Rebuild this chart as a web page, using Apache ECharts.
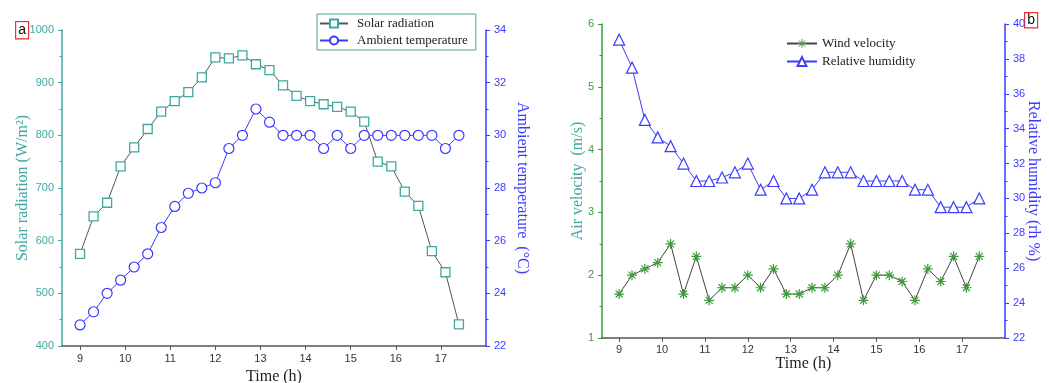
<!DOCTYPE html>
<html>
<head>
<meta charset="utf-8">
<script src="https://cdn.jsdelivr.net/npm/echarts@6/dist/echarts.min.js"></script>
<style>
  html, body { margin: 0; padding: 0; background: #ffffff; }
  #chart { width: 1049px; height: 383px; }
</style>
</head>
<body>
<div id="chart"></div>
<script>
// time of each measurement (h)
const hours = [9, 9.3, 9.6, 9.9, 10.2, 10.5, 10.8, 11.1, 11.4, 11.7, 12, 12.3, 12.6, 12.9, 13.2,
  13.5, 13.8, 14.1, 14.4, 14.7, 15, 15.3, 15.6, 15.9, 16.2, 16.5, 16.8, 17.1, 17.4];
const timeTicks = [9, 10, 11, 12, 13, 14, 15, 16, 17];

// (a) solar radiation W/m2 and ambient temperature °C
const solarRadiation = [575, 646, 672, 741, 777, 812, 845, 865, 882, 910, 948, 946, 952, 935, 924,
  895, 875, 865, 859, 854, 845, 826, 750, 741, 693, 666, 580, 540, 441];
const ambientTemp = [22.8, 23.3, 24.0, 24.5, 25.0, 25.5, 26.5, 27.3, 27.8, 28.0, 28.2, 29.5, 30.0, 31.0, 30.5,
  30.0, 30.0, 30.0, 29.5, 30.0, 29.5, 30.0, 30.0, 30.0, 30.0, 30.0, 30.0, 29.5, 30.0];

// (b) wind velocity m/s and relative humidity %
const windVelocity = [1.7, 2.0, 2.1, 2.2, 2.5, 1.7, 2.3, 1.6, 1.8, 1.8, 2.0, 1.8, 2.1, 1.7, 1.7,
  1.8, 1.8, 2.0, 2.5, 1.6, 2.0, 2.0, 1.9, 1.6, 2.1, 1.9, 2.3, 1.8, 2.3];
const relHumidity = [39.1, 37.5, 34.5, 33.5, 33.0, 32.0, 31.0, 31.0, 31.2, 31.5, 32.0, 30.5, 31.0, 30.0, 30.0,
  30.5, 31.5, 31.5, 31.5, 31.0, 31.0, 31.0, 31.0, 30.5, 30.5, 29.5, 29.5, 29.5, 30.0];

const teal = '#40a8a0';
const blue = '#3b3bff';
const green = '#3a9e3a';
const dark = '#555555';
const sans = 'Liberation Sans, Arial, sans-serif';
const serif = 'Liberation Serif, Times New Roman, serif';

const pairs = (ys) => hours.map((h, i) => [h, ys[i]]);

// 8-ray star used by Origin for the wind series
const asterisk = 'path://M5,0L5,10M0,5L10,5M1.5,1.5L8.5,8.5M1.5,8.5L8.5,1.5';

function timeAxis(gridIndex, labelMargin, nameGap) {
  return {
    type: 'value',
    gridIndex: gridIndex,
    min: 8.6,
    max: 18,
    name: 'Time (h)',
    nameLocation: 'middle',
    nameGap: nameGap,
    nameMoveOverlap: false,
    nameTextStyle: {fontFamily: serif, fontSize: 16, color: '#222'},
    axisLine: {show: true, lineStyle: {color: dark, width: 1.5}},
    axisTick: {show: true, inside: false, length: 4, customValues: timeTicks, lineStyle: {color: dark}},
    axisLabel: {customValues: timeTicks, margin: labelMargin, fontFamily: sans, fontSize: 11, color: '#333'},
    splitLine: {show: false}
  };
}

function valAxis(opt) {
  return {
    type: 'value',
    gridIndex: opt.grid,
    position: opt.position,
    min: opt.min,
    max: opt.max,
    interval: opt.interval,
    name: opt.name,
    nameLocation: 'middle',
    nameGap: opt.nameGap,
    nameMoveOverlap: false,
    nameRotate: opt.position === 'right' ? -90 : 90,
    nameTextStyle: {fontFamily: serif, fontSize: 16, color: opt.nameColor || opt.color},
    axisLine: {show: true, lineStyle: {color: opt.color, width: 1.5}},
    axisTick: {show: true, inside: false, length: 4, lineStyle: {color: opt.color}},
    minorTick: {show: true, splitNumber: 2, length: 2.5, lineStyle: {color: opt.color}},
    axisLabel: {margin: 8, fontFamily: sans, fontSize: 11, color: opt.color, formatter: (v) => String(v)},
    splitLine: {show: false}
  };
}

const chart = echarts.init(document.getElementById('chart'));
const option = {
  animation: false,
  backgroundColor: '#ffffff',
  grid: [
    {left: 62, right: 563, top: 30, bottom: 37, outerBoundsMode: 'none'},
    {left: 602, right: 44, top: 24, bottom: 45, outerBoundsMode: 'none'}
  ],
  xAxis: [
    timeAxis(0, 7, 23),
    timeAxis(1, 6, 18)
  ],
  yAxis: [
    valAxis({grid: 0, position: 'left', min: 400, max: 1000, interval: 100, color: teal,
      name: 'Solar radiation (W/m\u00b2)', nameGap: 31}),
    valAxis({grid: 0, position: 'right', min: 22, max: 34, interval: 2, color: blue,
      name: 'Ambient temperature  (\u00b0C)', nameGap: 28}),
    valAxis({grid: 1, position: 'left', min: 1, max: 6, interval: 1, color: green, nameColor: teal,
      name: 'Air velocity  (m/s)', nameGap: 16}),
    valAxis({grid: 1, position: 'right', min: 22, max: 40, interval: 2, color: blue,
      name: 'Relative humidity (rh %)', nameGap: 20})
  ],
  legend: [
    {
      left: 317, top: 14, orient: 'vertical',
      data: ['Solar radiation', 'Ambient temperature'],
      borderColor: teal, borderWidth: 1, padding: [3, 8, 3, 2],
      itemWidth: 28, itemHeight: 10, itemGap: 4,
      textStyle: {fontFamily: serif, fontSize: 13, color: '#222', padding: [0, 0, 0, 4]}
    },
    {
      left: 781, top: 32, orient: 'vertical',
      data: [
        {name: 'Wind velocity', itemStyle: {color: 'transparent', borderColor: green, borderWidth: 1}},
        {name: 'Relative humidity'}
      ],
      itemWidth: 30, itemHeight: 11, itemGap: 5,
      textStyle: {fontFamily: serif, fontSize: 13, color: '#222'}
    }
  ],
  series: [
    {
      name: 'Solar radiation', type: 'line', xAxisIndex: 0, yAxisIndex: 0,
      data: pairs(solarRadiation),
      symbol: 'rect', symbolSize: 9,
      lineStyle: {color: dark, width: 1},
      itemStyle: {color: '#ffffff', borderColor: teal, borderWidth: 1.3}
    },
    {
      name: 'Ambient temperature', type: 'line', xAxisIndex: 0, yAxisIndex: 1,
      data: pairs(ambientTemp),
      symbol: 'circle', symbolSize: 10,
      lineStyle: {color: blue, width: 1},
      itemStyle: {color: '#ffffff', borderColor: blue, borderWidth: 1.2}
    },
    {
      name: 'Wind velocity', type: 'line', xAxisIndex: 1, yAxisIndex: 2,
      data: pairs(windVelocity),
      symbol: asterisk, symbolSize: 10,
      lineStyle: {color: '#444', width: 1},
      itemStyle: {color: 'transparent', borderColor: green, borderWidth: 1.2}
    },
    {
      name: 'Relative humidity', type: 'line', xAxisIndex: 1, yAxisIndex: 3,
      data: pairs(relHumidity),
      symbol: 'triangle', symbolSize: 11,
      lineStyle: {color: blue, width: 1},
      itemStyle: {color: '#ffffff', borderColor: blue, borderWidth: 1.2}
    }
  ],
  graphic: [
    {
      type: 'text', left: 15, top: 21,
      style: {text: 'a', font: '14px ' + sans, fill: '#111',
        borderColor: '#e33', borderWidth: 1.2, padding: [1, 2, 1, 2], backgroundColor: '#fff'}
    },
    {
      type: 'text', left: 1024, top: 12,
      style: {text: 'b', font: '14px ' + sans, fill: '#111',
        borderColor: '#e33', borderWidth: 1.2, padding: [0, 2, 0, 2], backgroundColor: '#fff'}
    }
  ]
};
chart.setOption(option);
</script>
</body>
</html>
